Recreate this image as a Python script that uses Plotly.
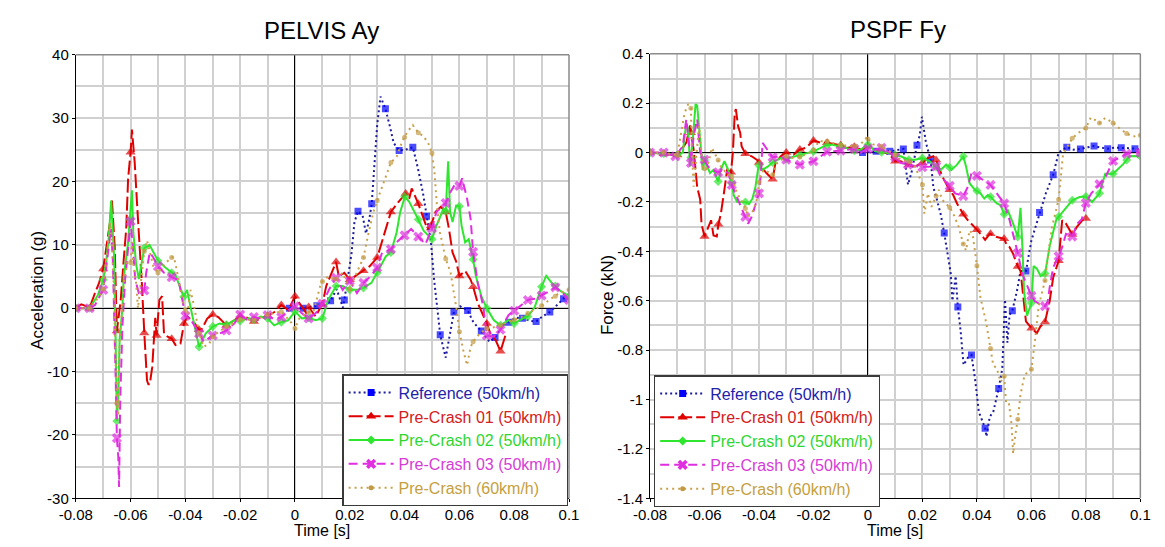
import plotly.graph_objects as go

# ---------------- DATA ----------------
LABELS = ["Reference (50km/h)", "Pre-Crash 01 (50km/h)", "Pre-Crash 02 (50km/h)",
          "Pre-Crash 03 (50km/h)", "Pre-Crash (60km/h)"]
TITLES = ["PELVIS Ay", "PSPF Fy"]
Y_TITLES = ["Acceleration (g)", "Force (kN)"]
X_TITLE = "Time [s]"

X_TICKS = [-0.08, -0.06, -0.04, -0.02, 0, 0.02, 0.04, 0.06, 0.08, 0.1]
X_TICK_TEXT = ["-0.08", "-0.06", "-0.04", "-0.02", "0", "0.02", "0.04", "0.06", "0.08", "0.1"]
Y1_TICKS = [-30, -20, -10, 0, 10, 20, 30, 40]
Y1_TICK_TEXT = ["-30", "-20", "-10", "0", "10", "20", "30", "40"]
Y2_TICKS = [-1.4, -1.2, -1.0, -0.8, -0.6, -0.4, -0.2, 0, 0.2, 0.4]
Y2_TICK_TEXT = ["-1.4", "-1.2", "-1", "-0.8", "-0.6", "-0.4", "-0.2", "0", "0.2", "0.4"]

# ---- PELVIS Ay ----
PELVIS_REF_T = [-0.002, 0.003, 0.008, 0.0105, 0.013, 0.0152, 0.0175, 0.018, 0.0206, 0.0217,
                0.023, 0.0247, 0.0259, 0.0271, 0.028, 0.0289, 0.030, 0.0312, 0.033, 0.0348,
                0.036, 0.038, 0.0402, 0.043, 0.0449, 0.0467, 0.048, 0.0496, 0.0508, 0.053,
                0.055, 0.0568, 0.058, 0.0603, 0.063, 0.0651, 0.068, 0.071, 0.073, 0.0759,
                0.078, 0.0805, 0.083, 0.0859, 0.088, 0.0906, 0.093, 0.0966, 0.098, 0.1]
PELVIS_REF_Y = [0, 0, 0.4, 0.3, 1.2, 3.0, 0.1, 1.3, 8.5, 13.6,
                15.3, 14.6, 11.8, 14.0, 16.5, 22.3, 28.9, 33.4, 31.5, 28.4,
                26.1, 24.9, 25.0, 25.4, 22.0, 18.2, 14.5, 10.5, 4.4, -4.2,
                -7.8, -3.3, -0.6, 0.3, -0.35, -2.2, -3.6, -5.3, -4.6, -2.7,
                -2.2, -1.5, -1.6, -2.0, -2.1, -1.2, -0.6, 0.8, 1.5, 2.4]

PELVIS_PC01_T = [-0.08, -0.078, -0.076, -0.075, -0.073, -0.0715, -0.07, -0.0685, -0.0675, -0.0668,
                 -0.0658, -0.065, -0.0636, -0.0625, -0.0616, -0.0609, -0.06, -0.0595, -0.0585, -0.0576,
                 -0.0566, -0.0559, -0.055, -0.0547, -0.054, -0.0535, -0.053, -0.0521, -0.0512, -0.051,
                 -0.0505, -0.0495, -0.0485, -0.0478, -0.0465, -0.045, -0.0436, -0.0418, -0.0405, -0.0392,
                 -0.0366, -0.035, -0.034, -0.032, -0.03, -0.028, -0.025, -0.022, -0.02, -0.0175,
                 -0.015, -0.0125, -0.01, -0.0075, -0.005, -0.0024, 0.0, 0.0016, 0.0042, 0.005,
                 0.0075, 0.0095, 0.01, 0.0114, 0.0135, 0.015, 0.016, 0.018, 0.02, 0.0225,
                 0.025, 0.0272, 0.03, 0.0312, 0.0332, 0.035, 0.0378, 0.0404, 0.0417, 0.0426,
                 0.045, 0.047, 0.0483, 0.0496, 0.0513, 0.0532, 0.055, 0.0562, 0.0575, 0.0588,
                 0.06, 0.0621, 0.0641, 0.065, 0.0667, 0.07, 0.0713, 0.0733, 0.075, 0.077]
PELVIS_PC01_Y = [0, 0.6, 0.3, 0, 2.4, 4, 6.2, 10.4, 13.6, 17,
                 9.8, -3.6, 1.3, 7.7, 12.5, 20.5, 24.6, 28.2, 23, 16.2,
                 9.8, 4, -3.9, -6.6, -11.4, -12, -12, -9.3, -3, -1.5,
                 -4.3, 1.3, 1.9, -4, -4.5, -4.8, -5.8, -5.6, -2.4, -1.3,
                 -2.4, -3.4, -3.3, -1.6, -1, -1.4, -2.7, -1.9, -1.3, -1.5,
                 -2.1, -1.6, -1.2, -0.6, 0.5, -0.3, 1.9, 0.8, -0.8, 0.2,
                 -1.3, 0.3, 0.6, 3.5, 5.6, 7.3, 5, 5.6, 4.5, 5.2,
                 5.9, 6.6, 8, 9.8, 12.5, 15.2, 16.8, 18.1, 17.3, 18.9,
                 16.5, 14.1, 12.5, 13, 15.2, 16, 15.2, 12.5, 8.8, 7.4,
                 5.1, 5.9, 4.5, 3.4, 0.8, -2.4, -4, -5.1, -6.8, -4]

PELVIS_PC02_T = [-0.08, -0.075, -0.072, -0.07, -0.069, -0.068, -0.0671, -0.066, -0.0655, -0.065,
                 -0.0645, -0.064, -0.063, -0.0625, -0.061, -0.0602, -0.0595, -0.059, -0.058, -0.057,
                 -0.0555, -0.055, -0.0531, -0.05, -0.0472, -0.045, -0.0436, -0.0406, -0.0394, -0.0377,
                 -0.035, -0.0326, -0.03, -0.0275, -0.025, -0.0221, -0.02, -0.0168, -0.015, -0.0125,
                 -0.01, -0.0076, -0.005, -0.0025, 0.0, 0.0025, 0.005, 0.0075, 0.01, 0.0121,
                 0.015, 0.0174, 0.02, 0.0226, 0.025, 0.0279, 0.03, 0.0332, 0.035, 0.0371,
                 0.0384, 0.0401, 0.0417, 0.0437, 0.045, 0.047, 0.05, 0.0516, 0.0542, 0.055,
                 0.0555, 0.0559, 0.0566, 0.0575, 0.0588, 0.06, 0.0608, 0.0621, 0.0634, 0.065,
                 0.066, 0.068, 0.07, 0.0726, 0.075, 0.0779, 0.08, 0.0832, 0.085, 0.0875,
                 0.09, 0.0917, 0.0937, 0.095, 0.0963, 0.1]
PELVIS_PC02_Y = [0, 0, 2, 4.5, 7, 11, 17, 8, -4, -17.8,
                 -14, -5, 0, 5, 10, 14, 18.6, 12, 7, 4.6,
                 8.5, 9.5, 10, 7.5, 6.4, 5.6, 5.2, 1.8, 2.9, -0.7,
                 -6.1, -4, -2.9, -2.4, -2.6, -1.9, -2, -1.6, -1.8, -1.3,
                 -1.6, -2.7, -2.2, -1.9, -0.5, -1.6, -1.5, -1.9, -1.6, 1.3,
                 3.5, 3.5, 2.9, 2.9, 3.2, 4, 5.6, 8.2, 8.8, 12,
                 15.2, 17.6, 16.8, 15.2, 14, 12.2, 10.9, 13, 15.7, 15.3,
                 18.9, 23.2, 15.2, 13.6, 16.2, 16.1, 13, 10.4, 10.9, 7.7,
                 5.1, 1.9, 0, -1.9, -2.7, -1.9, -2.4, -1.6, -1.3, 0.2,
                 3.4, 5.1, 4, 3.5, 2.9, 1.9]

PELVIS_PC03_T = [-0.08, -0.075, -0.073, -0.07, -0.069, -0.068, -0.0672, -0.0665, -0.066, -0.0655,
                 -0.065, -0.0645, -0.0642, -0.0638, -0.063, -0.0625, -0.062, -0.061, -0.06, -0.0592,
                 -0.0583, -0.057, -0.055, -0.0543, -0.053, -0.0517, -0.05, -0.0478, -0.045, -0.0425,
                 -0.0412, -0.04, -0.0379, -0.0359, -0.035, -0.0333, -0.03, -0.0275, -0.025, -0.0221,
                 -0.02, -0.0175, -0.015, -0.0125, -0.01, -0.0075, -0.005, -0.0024, 0.0, 0.0025,
                 0.005, 0.0075, 0.01, 0.0125, 0.015, 0.0174, 0.02, 0.0226, 0.025, 0.0275,
                 0.03, 0.0318, 0.035, 0.0371, 0.04, 0.0424, 0.045, 0.0476, 0.05, 0.0516,
                 0.055, 0.0568, 0.0582, 0.06, 0.061, 0.0628, 0.0641, 0.065, 0.0667, 0.0687,
                 0.07, 0.0726, 0.075, 0.0779, 0.08, 0.0825, 0.085, 0.0875, 0.09, 0.0925,
                 0.095, 0.0975, 0.1]
PELVIS_PC03_Y = [0, 0, 0.5, 2.9, 6, 10, 12.5, 8, 0, -10,
                 -20.5, -23.4, -28.2, -15, -3, 2, 4.5, 9, 13.7, 9.8,
                 4.5, 2.4, 2.8, 5.6, 8.8, 8, 6.6, 5.6, 4.9, 4.5,
                 1.3, -1.2, -1.9, -3.5, -4, -5.3, -4.3, -4, -3.5, -2.4,
                 -1, -1.8, -1.4, -1.6, -1.1, -1.8, -1.4, -0.3, 0.3, -0.8,
                 -1.6, -0.8, 0.7, 3, 4.8, 2.9, 4.3, 2.4, 4, 5,
                 6.4, 8.8, 9.3, 10.4, 11.5, 12.5, 11.3, 10.1, 12.6, 15.2,
                 16.6, 18.4, 19.4, 19.3, 20.5, 17.3, 14.1, 8.9, 4, 0.3,
                 -4.3, -4.5, -3.4, -1.1, -0.4, 0.5, 1.3, 1.5, 2, 2.6,
                 3.3, 2.5, 1.3]

PELVIS_PC60_T = [-0.08, -0.075, -0.072, -0.07, -0.069, -0.068, -0.0675, -0.067, -0.066, -0.0655,
                 -0.065, -0.0645, -0.064, -0.063, -0.0625, -0.0612, -0.06, -0.0595, -0.059, -0.058,
                 -0.0573, -0.0555, -0.055, -0.054, -0.0517, -0.05, -0.0471, -0.045, -0.0442, -0.0432,
                 -0.0418, -0.0405, -0.04, -0.0392, -0.0382, -0.0368, -0.035, -0.0333, -0.0313, -0.03,
                 -0.0287, -0.025, -0.0225, -0.02, -0.015, -0.0125, -0.01, -0.005, -0.0011, 0.0,
                 0.0016, 0.0042, 0.005, 0.0068, 0.0092, 0.01, 0.0121, 0.0147, 0.015, 0.0174,
                 0.02, 0.0219, 0.025, 0.0266, 0.0286, 0.03, 0.0332, 0.035, 0.0371, 0.0391,
                 0.04, 0.0411, 0.043, 0.045, 0.047, 0.0489, 0.05, 0.0509, 0.0518, 0.0529,
                 0.055, 0.0568, 0.0588, 0.06, 0.0614, 0.0628, 0.0641, 0.065, 0.0674, 0.07,
                 0.0739, 0.075, 0.0779, 0.08, 0.0818, 0.085, 0.09, 0.0937, 0.095, 0.0963,
                 0.1]
PELVIS_PC60_Y = [0, 0, 1.5, 3, 7, 11, 13.5, 12, 2, -8,
                 -15, -17, -5, 0, 4, 7.2, 7.2, 10.5, 7, 4,
                 0, 7, 9, 10.7, 6.6, 5.6, 7.2, 8, 8.1, 6.1,
                 2.9, 0.3, -0.3, -0.8, 2.9, 0.3, -4, -6.1, -5.6, -4.5,
                 -4, -2.9, -2.4, -1.8, -1.9, -1.5, -1, -0.5, -2.4, -3.2,
                 -1.6, -0.8, -0.6, -0.5, 3.5, 4.2, 5, 4.5, 4.6, 5.6,
                 3, 5, 8, 11.4, 15.2, 17, 21, 23, 23.9, 26.3,
                 27, 27.9, 28.9, 27.7, 27.1, 25.8, 24.5, 21.5, 16.2, 12,
                 7.8, 5.6, 0.3, -3.7, -6.6, -9, -6.1, -5.3, -4, -3.2,
                 -2.9, -2.7, -2.1, -1.8, -1.6, -0.8, 0.4, 1.6, 1.9, 2.4,
                 2.9]

# ---- PSPF Fy ----
PSPF_REF_T = [-0.002, 0.003, 0.008, 0.013, 0.0147, 0.016, 0.018, 0.019, 0.0198, 0.0213,
              0.023, 0.024, 0.0253, 0.0267, 0.028, 0.0293, 0.0304, 0.031, 0.0322, 0.033,
              0.034, 0.0351, 0.0367, 0.038, 0.0393, 0.0407, 0.043, 0.0435, 0.0447, 0.046,
              0.048, 0.0493, 0.0503, 0.0512, 0.052, 0.053, 0.0547, 0.056, 0.058, 0.06,
              0.063, 0.0653, 0.068, 0.07, 0.073, 0.0755, 0.078, 0.0805, 0.083, 0.0855,
              0.088, 0.0905, 0.093, 0.0955, 0.098, 0.1]
PSPF_REF_Y = [0, 0.005, 0.005, 0.015, -0.13, -0.08, 0.03, 0.07, 0.145, 0.04,
              -0.03, -0.14, -0.19, -0.25, -0.326, -0.41, -0.49, -0.6, -0.5, -0.625,
              -0.72, -0.86, -0.83, -0.82, -0.915, -1.05, -1.116, -1.15, -1.07, -1.05,
              -0.955, -0.875, -0.595, -0.77, -0.656, -0.64, -0.56, -0.48, -0.48, -0.356,
              -0.243, -0.165, -0.09, 0, 0.022, 0.012, 0.015, 0.02, 0.027, 0.02,
              0.016, 0.02, 0.02, 0.018, 0.016, 0.012]

PSPF_PC01_T = [-0.08, -0.075, -0.07, -0.068, -0.0667, -0.0653, -0.065, -0.064, -0.0633, -0.0627,
               -0.0616, -0.0611, -0.06, -0.0587, -0.0576, -0.0567, -0.0555, -0.0549, -0.054, -0.0527,
               -0.0517, -0.0503, -0.0496, -0.0489, -0.0485, -0.0477, -0.0469, -0.0464, -0.045, -0.0427,
               -0.0407, -0.04, -0.0393, -0.0373, -0.035, -0.034, -0.032, -0.03, -0.0273, -0.025,
               -0.0227, -0.02, -0.0173, -0.015, -0.0107, -0.01, -0.008, -0.005, -0.0027, 0.0,
               0.0027, 0.005, 0.008, 0.01, 0.012, 0.015, 0.0173, 0.02, 0.022, 0.024,
               0.025, 0.0273, 0.0293, 0.03, 0.0313, 0.0327, 0.035, 0.0367, 0.038, 0.04,
               0.0413, 0.043, 0.0447, 0.045, 0.0473, 0.05, 0.051, 0.052, 0.0533, 0.055,
               0.056, 0.0567, 0.0573, 0.058, 0.06, 0.062, 0.0633, 0.065, 0.0667, 0.068,
               0.07, 0.0707, 0.0713, 0.0727, 0.075, 0.0767, 0.0787, 0.08]
PSPF_PC01_Y = [0, -0.005, -0.01, 0.02, 0.04, 0.11, 0.08, 0.012, -0.07, -0.14,
               -0.19, -0.29, -0.34, -0.3, -0.274, -0.336, -0.34, -0.29, -0.247, -0.15,
               -0.07, -0.08, 0, 0.162, 0.176, 0.108, 0.08, 0.026, -0.005, -0.015,
               -0.03, -0.04, -0.056, -0.083, -0.108, -0.042, -0.015, 0, -0.008, 0.012,
               0.02, 0.049, 0.04, 0.04, 0.033, 0.03, 0.019, 0.024, 0.012, 0.026,
               0.012, 0.005, -0.008, -0.035, -0.035, -0.049, -0.056, -0.042, -0.022, -0.015,
               -0.03, -0.097, -0.138, -0.15, -0.172, -0.206, -0.25, -0.274, -0.288, -0.312,
               -0.329, -0.353, -0.329, -0.329, -0.342, -0.349, -0.376, -0.383, -0.41, -0.461,
               -0.479, -0.561, -0.615, -0.683, -0.711, -0.731, -0.704, -0.686, -0.602, -0.506,
               -0.438, -0.356, -0.274, -0.288, -0.332, -0.301, -0.274, -0.267]

PSPF_PC02_T = [-0.08, -0.075, -0.07, -0.068, -0.0667, -0.066, -0.0653, -0.065, -0.0643, -0.0633,
               -0.0627, -0.0616, -0.0607, -0.06, -0.058, -0.0567, -0.055, -0.054, -0.0527, -0.0513,
               -0.05, -0.0493, -0.048, -0.045, -0.0437, -0.0424, -0.0413, -0.0403, -0.04, -0.0387,
               -0.0367, -0.035, -0.032, -0.03, -0.0267, -0.025, -0.0213, -0.02, -0.016, -0.015,
               -0.0133, -0.0107, -0.01, -0.008, -0.005, -0.0027, 0.0, 0.0027, 0.005, 0.0067,
               0.0093, 0.01, 0.012, 0.015, 0.0173, 0.02, 0.0227, 0.025, 0.0267, 0.0287,
               0.03, 0.0307, 0.0327, 0.035, 0.036, 0.0373, 0.0393, 0.04, 0.0413, 0.0427,
               0.044, 0.045, 0.0473, 0.0487, 0.05, 0.0513, 0.0523, 0.0533, 0.055, 0.0553,
               0.056, 0.0567, 0.0573, 0.0584, 0.06, 0.0608, 0.062, 0.0634, 0.065, 0.0668,
               0.0692, 0.07, 0.072, 0.075, 0.0777, 0.08, 0.0823, 0.085, 0.0871, 0.09,
               0.0937, 0.095, 0.0961, 0.1]
PSPF_PC02_Y = [0, -0.005, -0.01, 0, 0.12, 0.094, -0.056, -0.02, 0.053, 0.196,
               0.19, 0.053, -0.07, -0.03, -0.083, -0.07, -0.117, -0.07, -0.035, -0.07,
               -0.124, -0.172, -0.2, -0.2, -0.209, -0.186, -0.138, -0.063, -0.052, -0.07,
               -0.056, -0.04, -0.022, -0.025, -0.015, -0.01, 0.001, 0.005, 0.026, 0.03,
               0.033, 0.026, 0.025, 0.019, 0.008, 0.012, 0.033, 0.005, 0.002, 0,
               -0.008, -0.01, -0.015, -0.029, -0.029, -0.022, -0.035, -0.058, -0.07, -0.049,
               -0.06, -0.07, -0.049, -0.015, -0.056, -0.124, -0.151, -0.155, -0.165, -0.186,
               -0.172, -0.179, -0.206, -0.213, -0.25, -0.233, -0.26, -0.288, -0.342, -0.30,
               -0.224, -0.383, -0.56, -0.66, -0.609, -0.459, -0.47, -0.5, -0.49, -0.374,
               -0.269, -0.26, -0.235, -0.193, -0.18, -0.178, -0.2, -0.165, -0.086, -0.086,
               -0.047, -0.03, -0.014, -0.015]

PSPF_PC03_T = [-0.08, -0.075, -0.0707, -0.068, -0.0667, -0.066, -0.065, -0.064, -0.0627, -0.0616,
               -0.06, -0.0587, -0.0573, -0.055, -0.0533, -0.0513, -0.05, -0.0487, -0.0473, -0.045,
               -0.044, -0.0427, -0.04, -0.0393, -0.0387, -0.035, -0.032, -0.03, -0.025, -0.0227,
               -0.02, -0.0173, -0.015, -0.01, -0.005, -0.0027, 0.0, 0.0027, 0.005, 0.008,
               0.01, 0.012, 0.0147, 0.02, 0.025, 0.0267, 0.03, 0.032, 0.035, 0.0367,
               0.038, 0.04, 0.042, 0.045, 0.0473, 0.05, 0.052, 0.0533, 0.055, 0.0567,
               0.06, 0.0613, 0.0633, 0.065, 0.066, 0.0667, 0.068, 0.07, 0.0713, 0.0727,
               0.075, 0.0767, 0.0785, 0.08, 0.082, 0.085, 0.0873, 0.09, 0.0927, 0.095,
               0.0973, 0.1]
PSPF_PC03_Y = [0, 0, -0.015, 0.026, 0.135, 0.053, -0.042, 0.067, 0.135, 0,
               -0.029, -0.056, -0.07, -0.08, -0.07, -0.083, -0.131, -0.165, -0.206, -0.26,
               -0.288, -0.26, -0.165, -0.083, 0.04, -0.019, -0.015, -0.029, -0.049, -0.042,
               -0.035, -0.015, 0.004, 0.008, 0.015, 0, 0.015, 0.012, 0.019, 0,
               -0.018, -0.042, -0.049, -0.059, -0.056, -0.097, -0.135, -0.165, -0.176, -0.138,
               -0.083, -0.094, -0.11, -0.131, -0.165, -0.206, -0.274, -0.329, -0.407, -0.492,
               -0.58, -0.602, -0.615, -0.622, -0.602, -0.547, -0.465, -0.42, -0.383, -0.329,
               -0.34, -0.29, -0.27, -0.204, -0.165, -0.128, -0.097, -0.034, -0.02, -0.005,
               0, 0]

PSPF_PC60_T = [-0.08, -0.075, -0.07, -0.0673, -0.066, -0.065, -0.0647, -0.064, -0.0629, -0.062,
               -0.0607, -0.06, -0.0593, -0.058, -0.0573, -0.0557, -0.055, -0.054, -0.052, -0.05,
               -0.048, -0.045, -0.044, -0.042, -0.0407, -0.04, -0.0393, -0.038, -0.035, -0.0333,
               -0.03, -0.028, -0.025, -0.0213, -0.02, -0.018, -0.015, -0.0107, -0.01, -0.005,
               -0.0027, -0.0003, 0.0, 0.002, 0.005, 0.0087, 0.01, 0.012, 0.015, 0.0173,
               0.0193, 0.02, 0.0207, 0.022, 0.0233, 0.025, 0.026, 0.0273, 0.03, 0.0313,
               0.0333, 0.035, 0.036, 0.0373, 0.0384, 0.04, 0.0413, 0.0433, 0.045, 0.046,
               0.0473, 0.0487, 0.05, 0.0507, 0.0517, 0.0527, 0.0533, 0.054, 0.055, 0.056,
               0.0575, 0.06, 0.0614, 0.0627, 0.065, 0.0674, 0.07, 0.0716, 0.075, 0.0773,
               0.08, 0.0818, 0.084, 0.085, 0.0871, 0.09, 0.0933, 0.095, 0.0973, 0.1]
PSPF_PC60_Y = [0, 0, -0.01, 0.162, 0.196, 0.18, 0.026, -0.138, 0, 0.108,
               -0.056, -0.065, -0.07, -0.015, 0.019, -0.015, -0.03, -0.056, -0.083, -0.097,
               -0.165, -0.226, -0.26, -0.233, -0.186, -0.12, -0.083, -0.07, -0.09, -0.042,
               -0.015, -0.022, -0.018, 0, 0.01, 0.046, 0.046, 0.033, 0.03, 0.026,
               0.033, 0.064, 0.055, 0.033, 0.026, 0, -0.01, -0.029, -0.035, -0.056,
               -0.11, -0.13, -0.247, -0.165, -0.22, -0.176, -0.151, -0.192, -0.222, -0.247,
               -0.301, -0.37, -0.397, -0.315, -0.329, -0.458, -0.588, -0.683, -0.793, -0.861,
               -0.874, -0.929, -0.906, -1.011, -1.011, -1.1, -1.22, -1.15, -1.08, -0.98,
               -0.9, -0.877, -0.753, -0.62, -0.518, -0.309, -0.19, -0.008, 0.058, 0.08,
               0.1, 0.142, 0.128, 0.12, 0.14, 0.12, 0.09, 0.077, 0.065, 0.07]

PELVIS_SERIES = [(PELVIS_REF_T, PELVIS_REF_Y), (PELVIS_PC01_T, PELVIS_PC01_Y),
                 (PELVIS_PC02_T, PELVIS_PC02_Y), (PELVIS_PC03_T, PELVIS_PC03_Y),
                 (PELVIS_PC60_T, PELVIS_PC60_Y)]
PSPF_SERIES = [(PSPF_REF_T, PSPF_REF_Y), (PSPF_PC01_T, PSPF_PC01_Y),
               (PSPF_PC02_T, PSPF_PC02_Y), (PSPF_PC03_T, PSPF_PC03_Y),
               (PSPF_PC60_T, PSPF_PC60_Y)]

# ---------------- STYLE ----------------
STYLES = [
    dict(line="#1c1c9c", mark="#0000ff", text="#2222aa", symbol="square", size=7, dash="2px,3px", t0=-0.002),
    dict(line="#e00000", mark="#e00000", text="#d42020", symbol="triangle-up", size=9, dash="14px,4px", t0=-0.08),
    dict(line="#2fe62f", mark="#2fe62f", text="#2fd62f", symbol="diamond", size=7, dash="solid", t0=-0.08),
    dict(line="#e02ee0", mark="#e02ee0", text="#d63cd6", symbol="x", size=9, dash="9px,5px", t0=-0.08),
    dict(line="#c9a04a", mark="#c39a44", text="#c4a040", symbol="circle", size=5, dash="2px,4px", t0=-0.08),
]
MARK_STEP = 0.005
GRID = "#d0d0d0"
FRAME = "#8a8a8a"
OFF = 8            # page body margin of the html output
W, H = 1157, 539


def marker_sizes(t, t0, size):
    sizes = [0] * len(t)
    k = 0
    while True:
        g = t0 + k * MARK_STEP
        if g > t[-1] + 1e-9:
            break
        i = min(range(len(t)), key=lambda j: abs(t[j] - g))
        if abs(t[i] - g) < 0.0015:
            sizes[i] = size
        k += 1
    return sizes


fig = go.Figure()

for series, xa, ya, leg in [(PELVIS_SERIES, "x", "y", "legend"), (PSPF_SERIES, "x2", "y2", "legend2")]:
    for (t, y), st in zip(series, STYLES):
        assert len(t) == len(y), (len(t), len(y))
        fig.add_trace(go.Scatter(
            x=t, y=y, mode="lines+markers", xaxis=xa, yaxis=ya, showlegend=False,
            hoverinfo="skip",
            line=dict(color=st["line"], width=2, dash=st["dash"]),
            marker=dict(symbol=st["symbol"], color=st["mark"], size=marker_sizes(t, st["t0"], st["size"]),
                        line=dict(width=0)),
        ))
    for lab, st in zip(LABELS, STYLES):
        fig.add_trace(go.Scatter(
            x=[None], y=[None], mode="lines+markers", xaxis=xa, yaxis=ya, legend=leg,
            name='<span style="color:%s">%s</span>' % (st["text"], lab),
            line=dict(color=st["line"], width=2, dash=st["dash"]),
            marker=dict(symbol=st["symbol"], color=st["mark"], size=st["size"], line=dict(width=0)),
        ))


def px(x):
    return (x - OFF) / W


def py(y):
    return 1 - (y - OFF) / H


def xaxis(domain, anchor):
    return dict(domain=domain, anchor=anchor, range=[-0.08, 0.1], tickmode="array",
                tickvals=X_TICKS, ticktext=X_TICK_TEXT, showgrid=True, gridcolor=GRID, gridwidth=1.5,
                minor=dict(tickmode="linear", tick0=0, dtick=0.01, showgrid=True, gridcolor=GRID, gridwidth=1.5),
                zeroline=True, zerolinecolor="black", zerolinewidth=1,
                showline=True, linecolor="black", linewidth=1, ticks="outside", ticklen=3,
                tickcolor="black", tickfont=dict(size=15, color="black"))


def yaxis(domain, anchor, rng, vals, text, minor_dt):
    return dict(domain=domain, anchor=anchor, range=rng, tickmode="array", tickvals=vals, ticktext=text,
                showgrid=True, gridcolor=GRID, gridwidth=1.5,
                minor=dict(tickmode="linear", tick0=0, dtick=minor_dt, showgrid=True, gridcolor=GRID, gridwidth=1.5),
                zeroline=True, zerolinecolor="black", zerolinewidth=1,
                showline=True, linecolor="black", linewidth=1, ticks="outside", ticklen=3,
                tickcolor="black", tickfont=dict(size=15, color="black"))


legend_common = dict(bgcolor="white", bordercolor="#3a3a3a", borderwidth=1.2,
                     font=dict(family="Arial", size=16), itemwidth=45, xanchor="left", yanchor="top",
                     tracegroupgap=0)

frame_lines = []
for xr, yr in [("x domain", "y domain"), ("x2 domain", "y2 domain")]:
    frame_lines.append(dict(type="line", xref=xr, yref=yr, x0=0, x1=1, y0=1, y1=1,
                            line=dict(color=FRAME, width=1.5), layer="above"))
    frame_lines.append(dict(type="line", xref=xr, yref=yr, x0=1, x1=1, y0=0, y1=1,
                            line=dict(color=FRAME, width=1.5), layer="above"))

fig.update_layout(
    width=W, height=H, margin=dict(l=0, r=0, t=0, b=0),
    paper_bgcolor="white", plot_bgcolor="white",
    font=dict(family="Arial", size=15, color="black"),
    xaxis=xaxis([px(60), px(565)], "y"),
    yaxis=yaxis([py(505), py(47)], "x", [-30, 40], Y1_TICKS, Y1_TICK_TEXT, 5),
    xaxis2=xaxis([px(648), px(1150)], "y2"),
    yaxis2=yaxis([py(505), py(46)], "x2", [-1.4, 0.4], Y2_TICKS, Y2_TICK_TEXT, 0.1),
    legend=dict(x=px(333), y=py(377), **legend_common),
    legend2=dict(x=px(652), y=py(378), **legend_common),
    shapes=frame_lines,
    annotations=[
        dict(text=TITLES[0], x=px(312), y=py(22), xref="paper", yref="paper", showarrow=False,
             font=dict(size=24), xanchor="center", yanchor="middle"),
        dict(text=TITLES[1], x=px(902), y=py(21), xref="paper", yref="paper", showarrow=False,
             font=dict(size=24), xanchor="center", yanchor="middle"),
        dict(text=Y_TITLES[0], x=px(20), y=py(290), xref="paper", yref="paper", showarrow=False,
             font=dict(size=17), textangle=-90, xanchor="center", yanchor="middle"),
        dict(text=Y_TITLES[1], x=px(605), y=py(295), xref="paper", yref="paper", showarrow=False,
             font=dict(size=17), textangle=-90, xanchor="center", yanchor="middle"),
        dict(text=X_TITLE, x=px(312), y=py(538), xref="paper", yref="paper", showarrow=False,
             font=dict(size=16), xanchor="center", yanchor="middle"),
        dict(text=X_TITLE, x=px(899), y=py(538), xref="paper", yref="paper", showarrow=False,
             font=dict(size=16), xanchor="center", yanchor="middle"),
    ],
)

fig.write_html("out.html")
